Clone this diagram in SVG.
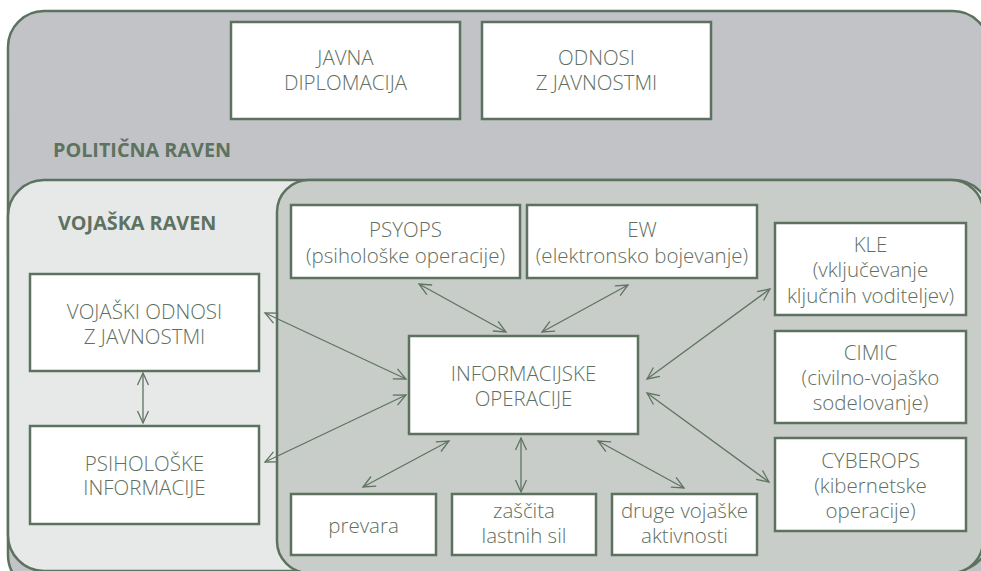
<svg xmlns="http://www.w3.org/2000/svg" width="981" height="571" viewBox="0 0 981 571">
  <defs>
    <marker id="ah" markerUnits="userSpaceOnUse" markerWidth="30" markerHeight="30" refX="0" refY="0" viewBox="-15 -15 30 30" orient="auto-start-reverse">
      <path d="M -12 -5.5 L 0 0 L -12 5.5" fill="none" stroke="#5f7461" stroke-width="1.3"/>
    </marker>
  </defs>
  <style>
    .panel { stroke: #5d715f; stroke-width: 2.5; }
    .box { fill: #ffffff; stroke: #5d715f; stroke-width: 2.5; }
    .t { font-family: "Open Sans", "Noto Sans", "Liberation Sans", sans-serif; font-size: 20.5px; font-weight: 300; fill: #5f6f61; text-anchor: middle; }
    .h { font-family: "Open Sans", "Noto Sans", "Liberation Sans", sans-serif; font-size: 19.8px; font-weight: 700; fill: #5d7260; }
    .c { fill: none; stroke: #5f7461; stroke-width: 1.3; marker-start: url(#ah); marker-end: url(#ah); }
  </style>
  <rect width="981" height="571" fill="#ffffff"/>
  <g id="politicna-raven">
    <rect class="panel" x="8" y="11" width="981" height="580" rx="36" fill="#c1c3c7"/>
    <text class="h" x="53" y="157">POLITIČNA RAVEN</text>
  </g>
  <g id="vojaska-raven">
    <rect class="panel" x="8" y="180" width="982" height="391" rx="36" fill="#e7e8e8"/>
    <text class="h" x="58" y="230">VOJAŠKA RAVEN</text>
  </g>
  <g id="operacije-panel">
    <rect class="panel" x="277" y="180" width="706" height="393" rx="32" fill="#c9cdc9"/>
  </g>
  <g id="javna-diplomacija">
    <rect class="box" x="231" y="22" width="229" height="97"/>
    <text class="t" x="345.5" y="65">JAVNA</text>
    <text class="t" x="345.5" y="90">DIPLOMACIJA</text>
  </g>
  <g id="odnosi-z-javnostmi">
    <rect class="box" x="482" y="22" width="229" height="97"/>
    <text class="t" x="596.5" y="65">ODNOSI</text>
    <text class="t" x="596.5" y="90">Z JAVNOSTMI</text>
  </g>
  <g id="psyops">
    <rect class="box" x="291" y="205" width="229" height="73"/>
    <text class="t" x="405.5" y="237">PSYOPS</text>
    <text class="t" x="405.5" y="263">(psihološke operacije)</text>
  </g>
  <g id="ew">
    <rect class="box" x="527" y="205" width="230" height="73"/>
    <text class="t" x="642" y="237">EW</text>
    <text class="t" x="642" y="263">(elektronsko bojevanje)</text>
  </g>
  <g id="kle">
    <rect class="box" x="775" y="223" width="191" height="92"/>
    <text class="t" x="870.5" y="252">KLE</text>
    <text class="t" x="870.5" y="277">(vključevanje</text>
    <text class="t" x="870.5" y="303">ključnih voditeljev)</text>
  </g>
  <g id="cimic">
    <rect class="box" x="775" y="331" width="191" height="92"/>
    <text class="t" x="870.5" y="360">CIMIC</text>
    <text class="t" x="870.5" y="385">(civilno-vojaško</text>
    <text class="t" x="870.5" y="410">sodelovanje)</text>
  </g>
  <g id="cyberops">
    <rect class="box" x="775" y="438" width="191" height="93"/>
    <text class="t" x="870.5" y="468">CYBEROPS</text>
    <text class="t" x="870.5" y="493">(kibernetske</text>
    <text class="t" x="870.5" y="518">operacije)</text>
  </g>
  <g id="informacijske-operacije">
    <rect class="box" x="409" y="336" width="229" height="98"/>
    <text class="t" x="523.5" y="381">INFORMACIJSKE</text>
    <text class="t" x="523.5" y="406">OPERACIJE</text>
  </g>
  <g id="vojaski-odnosi">
    <rect class="box" x="30" y="274" width="229" height="97"/>
    <text class="t" x="144.5" y="319">VOJAŠKI ODNOSI</text>
    <text class="t" x="144.5" y="344">Z JAVNOSTMI</text>
  </g>
  <g id="psiholoske-informacije">
    <rect class="box" x="30" y="426" width="229" height="98"/>
    <text class="t" x="144.5" y="471">PSIHOLOŠKE</text>
    <text class="t" x="144.5" y="495">INFORMACIJE</text>
  </g>
  <g id="prevara">
    <rect class="box" x="291" y="494" width="145" height="61"/>
    <text class="t" x="363.5" y="533">prevara</text>
  </g>
  <g id="zascita">
    <rect class="box" x="452" y="494" width="144" height="61"/>
    <text class="t" x="524" y="518">zaščita</text>
    <text class="t" x="524" y="543">lastnih sil</text>
  </g>
  <g id="druge">
    <rect class="box" x="612" y="494" width="145" height="61"/>
    <text class="t" x="684.5" y="518">druge vojaške</text>
    <text class="t" x="684.5" y="543">aktivnosti</text>
  </g>
  <g id="connectors">
    <line class="c" x1="419" y1="284" x2="506" y2="332"/>
    <line class="c" x1="628" y1="285" x2="542" y2="332"/>
    <line class="c" x1="770" y1="289" x2="647" y2="379"/>
    <line class="c" x1="769" y1="482" x2="647" y2="393"/>
    <line class="c" x1="265" y1="313" x2="406" y2="379"/>
    <line class="c" x1="265" y1="462" x2="406" y2="395"/>
    <line class="c" x1="363" y1="487" x2="449" y2="441"/>
    <line class="c" x1="521" y1="438" x2="521" y2="492"/>
    <line class="c" x1="684" y1="488" x2="598" y2="441"/>
    <line class="c" x1="143" y1="373" x2="143" y2="423"/>
  </g>
</svg>
